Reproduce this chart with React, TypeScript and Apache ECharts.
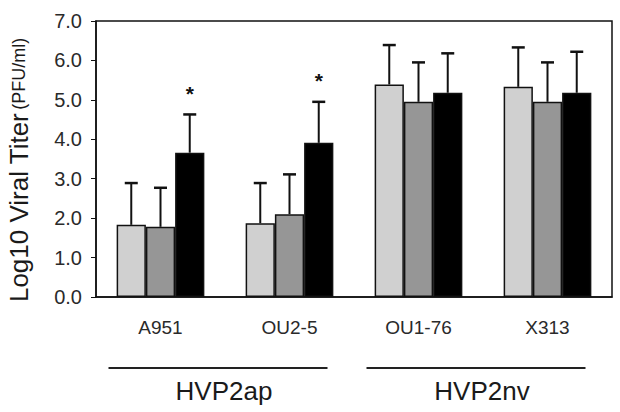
import React, { useEffect, useRef } from "react";
import * as echarts from "echarts";

const categories = ["A951", "OU2-5", "OU1-76", "X313"];
const groups = ["HVP2ap", "HVP2nv"];
const seriesNames = ["Light", "Medium", "Dark"];
const seriesColors = ["#d0d0d0", "#969696", "#000000"];
const lightValues = [1.83, 1.87, 5.39, 5.33];
const lightErrors = [1.06, 1.02, 1.0, 1.0];
const mediumValues = [1.78, 2.1, 4.95, 4.95];
const mediumErrors = [0.99, 1.01, 1.0, 1.0];
const darkValues = [3.66, 3.91, 5.18, 5.18];
const darkErrors = [0.97, 1.04, 1.0, 1.04];
const darkSignificant = [true, true, false, false];
const yTicks = { min: 0, max: 7, interval: 1 };

const BAR_CAT_GAP = 0.32;

export default function App() {
  const ref = useRef<HTMLDivElement>(null);
  useEffect(() => {
    document.body.style.margin = "0";
    if (!ref.current) return;
    const chart = echarts.init(ref.current, null, { renderer: "svg" });
    const values = [lightValues, mediumValues, darkValues];
    const errors = [lightErrors, mediumErrors, darkErrors];
    const errData: number[][] = [];
    values.forEach((vals, si) => {
      vals.forEach((v, ci) => {
        const star = si === 2 && darkSignificant[ci] ? 1 : 0;
        errData.push([ci, v, errors[si][ci], si, star]);
      });
    });
    const textColor = "#2a2a2a";
    const ff = "Liberation Sans, Arial, sans-serif";
    const option: any = {
      animation: false,
      grid: {
        left: 96,
        top: 21,
        right: 8,
        bottom: 115,
        show: true,
        borderColor: "#111",
        borderWidth: 1.5,
        backgroundColor: "transparent",
      },
      xAxis: {
        type: "category",
        data: categories,
        axisLine: { show: true, lineStyle: { color: "#111", width: 1.5 } },
        axisTick: { show: false },
        axisLabel: {
          margin: 21,
          fontSize: 19,
          color: textColor,
          fontFamily: ff,
        },
        splitLine: { show: false },
      },
      yAxis: {
        type: "value",
        min: yTicks.min,
        max: yTicks.max,
        interval: yTicks.interval,
        axisLine: { show: true, lineStyle: { color: "#111", width: 1.5 } },
        axisTick: { show: true, inside: false, length: 5, lineStyle: { color: "#111" } },
        axisLabel: {
          margin: 14,
          fontSize: 20,
          color: textColor,
          fontFamily: ff,
          formatter: (v: number) => v.toFixed(1),
        },
        splitLine: { show: false },
      },
      series: [
        ...values.map((vals, si) => ({
          name: seriesNames[si],
          type: "bar",
          data: vals,
          barGap: "0%",
          barCategoryGap: BAR_CAT_GAP * 100 + "%",
          itemStyle: { color: seriesColors[si], borderColor: "#111", borderWidth: 1.5 },
          z: 2,
        })),
        {
          type: "custom",
          data: errData,
          encode: { x: 0, y: 1 },
          z: 3,
          clip: false,
          renderItem: (params: any, api: any) => {
            const ci = api.value(0);
            const v = api.value(1);
            const e = api.value(2);
            const si = api.value(3);
            const star = api.value(4);
            const base = api.coord([ci, v]);
            const top = api.coord([ci, v + e]);
            const band = api.size([1, 0])[0];
            const bw = (band * (1 - BAR_CAT_GAP)) / 3;
            const x = base[0] + (si - 1) * bw;
            const children: any[] = [
              {
                type: "line",
                shape: { x1: x, y1: base[1], x2: x, y2: top[1] },
                style: { stroke: "#111", lineWidth: 2 },
              },
              {
                type: "line",
                shape: { x1: x - 6.5, y1: top[1], x2: x + 6.5, y2: top[1] },
                style: { stroke: "#111", lineWidth: 2.5 },
              },
            ];
            if (star) {
              children.push({
                type: "text",
                x: x,
                y: top[1] - 21,
                style: {
                  text: "*",
                  fontSize: 21,
                  fontWeight: "bold",
                  fill: "#111",
                  align: "center",
                  verticalAlign: "middle",
                  fontFamily: ff,
                },
              });
            }
            return { type: "group", children };
          },
        },
      ],
    };
    chart.setOption(option);

    const px = (i: number) => chart.convertToPixel({ xAxisIndex: 0 }, categories[i]) as number;
    const g0a = px(0) - 52;
    const g0b = px(1) + 38;
    const g1a = px(2) - 52;
    const g1b = px(3) + 38;
    const lineY = 368;
    const labelY = 391;
    const mkLine = (a: number, b: number) => ({
      type: "line",
      shape: { x1: a, y1: lineY, x2: b, y2: lineY },
      style: { stroke: "#222", lineWidth: 2 },
    });
    const mkLabel = (t: string, a: number, b: number) => ({
      type: "text",
      x: (a + b) / 2 + 6,
      y: labelY,
      style: {
        text: t,
        fontSize: 26,
        fill: "#1a1a1a",
        align: "center",
        verticalAlign: "middle",
        fontFamily: ff,
      },
    });
    chart.setOption({
      graphic: [
        mkLine(g0a, g0b),
        mkLine(g1a, g1b),
        mkLabel(groups[0], g0a, g0b),
        mkLabel(groups[1], g1a, g1b),
        {
          type: "text",
          x: 19,
          y: 170,
          rotation: Math.PI / 2,
          style: {
            text: "{a|Log10 Viral Titer} {b|(PFU/ml)}",
            align: "center",
            verticalAlign: "middle",
            fill: "#1a1a1a",
            fontFamily: ff,
            rich: {
              a: { fontSize: 26, fill: "#1a1a1a", fontFamily: ff },
              b: { fontSize: 18, fill: "#1a1a1a", fontFamily: ff },
            },
          },
        },
      ],
    });
    return () => chart.dispose();
  }, []);
  return <div ref={ref} style={{ width: 620, height: 412 }} />;
}
